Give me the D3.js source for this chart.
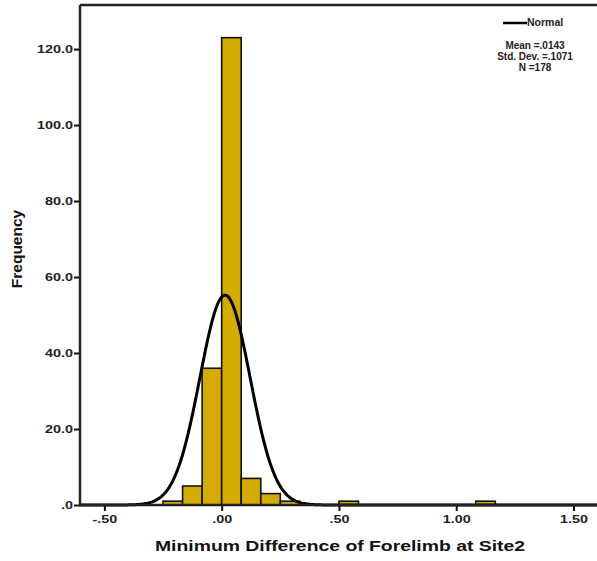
<!DOCTYPE html>
<html>
<head>
<meta charset="utf-8">
<script src="https://cdn.jsdelivr.net/npm/d3@7"></script>
<style>
  body { margin: 0; background: #fff; }
  svg { display: block; font-family: "Liberation Sans", Arial, sans-serif; }
</style>
</head>
<body>
<svg id="chart" width="597" height="561"></svg>
<script>
// histogram bins (lower edge, upper edge) and counts
const binStart = [-0.25, -0.1667, -0.0833, 0.0, 0.0833, 0.1667, 0.25, 0.5, 1.0833];
const binEnd = [-0.1667, -0.0833, 0.0, 0.0833, 0.1667, 0.25, 0.3333, 0.5833, 1.1667];
const counts = [1, 5, 36, 123, 7, 3, 1, 1, 1];

const xTicks = [-0.5, 0, 0.5, 1.0, 1.5];
const yTicks = [0, 20, 40, 60, 80, 100, 120];

// summary stats shown in the legend
const stat_mean = 0.0143;
const stat_sd = 0.1071;
const stat_n = 178;
const bin_width = 0.0833;

const svg = d3.select('#chart');
const m_left = 80, m_top = 5, m_bottom = 505, m_right = 600;
const stretch = 1.25; // the text in the picture is wide, stretch it sideways

const x = d3.scaleLinear().domain([-0.604, 1.613]).range([m_left, m_right]);
const y = d3.scaleLinear().domain([0, 131.6]).range([m_bottom, m_top]);

const fmtX = v => d3.format('.2f')(v).replace('\u2212', '-').replace(/^(-?)0\./, '$1.');
const fmtY = v => d3.format('.1f')(v).replace(/^0\./, '.');

const plot = svg.append('g');

// bars
plot.selectAll('rect.bar')
  .data(counts)
  .enter()
  .append('rect')
  .attr('class', 'bar')
  .attr('x', (d, i) => x(binStart[i]))
  .attr('width', (d, i) => x(binEnd[i]) - x(binStart[i]))
  .attr('y', d => y(d))
  .attr('height', d => y(0) - y(d))
  .attr('fill', '#d4ab02')
  .attr('stroke', '#111')
  .attr('stroke-width', 1.6);

// normal curve from the legend stats
const curvePts = d3.range(-0.604, 1.62, 0.004).map(v => {
  const z = (v - stat_mean) / stat_sd;
  return [v, stat_n * bin_width * Math.exp(-0.5 * z * z) / (stat_sd * Math.sqrt(2 * Math.PI))];
});
plot.append('path')
  .datum(curvePts)
  .attr('fill', 'none')
  .attr('stroke', '#000')
  .attr('stroke-width', 3)
  .attr('d', d3.line().x(d => x(d[0])).y(d => y(d[1])));

// axes
const xAxis = svg.append('g')
  .attr('transform', `translate(0,${m_bottom})`)
  .call(d3.axisBottom(x).tickValues(xTicks).tickFormat(fmtX).tickSize(6).tickPadding(4));
const yAxis = svg.append('g')
  .attr('transform', `translate(${m_left},0)`)
  .call(d3.axisLeft(y).tickValues(yTicks).tickFormat(fmtY).tickSize(6).tickPadding(2));

[xAxis, yAxis].forEach(a => {
  a.select('.domain').remove();
  a.selectAll('.tick line').attr('stroke', '#111').attr('stroke-width', 2);
  a.selectAll('.tick text')
    .attr('fill', '#222')
    .attr('font-size', '11.5px')
    .attr('font-weight', 'bold')
    .attr('font-family', '"Liberation Sans", Arial, sans-serif')
    .attr('transform', `scale(${stretch},1)`);
});
yAxis.selectAll('.tick text').attr('x', -7 / stretch).attr('dy', '0.32em');

// frame
svg.append('path')
  .attr('d', `M${m_left},${m_top}H597M${m_left},${m_top}V${m_bottom}H597`)
  .attr('fill', 'none')
  .attr('stroke', '#222')
  .attr('stroke-width', 2.5);

// titles
svg.append('g')
  .attr('transform', `translate(340,551) scale(${stretch},1)`)
  .append('text')
  .attr('text-anchor', 'middle')
  .attr('font-size', '15.5px')
  .attr('font-weight', 'bold')
  .attr('fill', '#111')
  .text('Minimum Difference of Forelimb at Site2');

svg.append('text')
  .attr('transform', 'translate(22,249) rotate(-90)')
  .attr('text-anchor', 'middle')
  .attr('font-size', '15.5px')
  .attr('font-weight', 'bold')
  .attr('fill', '#111')
  .text('Frequency');

// legend
const legend = svg.append('g').attr('font-size', '10px').attr('font-weight', 'bold').attr('fill', '#222');
legend.append('line')
  .attr('x1', 503).attr('x2', 527).attr('y1', 23).attr('y2', 23)
  .attr('stroke', '#000').attr('stroke-width', 2.5);
legend.append('text').attr('x', 527).attr('y', 26).attr('font-size', '10.5px').text('Normal');
legend.append('text').attr('x', 535).attr('y', 49).attr('text-anchor', 'middle')
  .text(`Mean =${d3.format('.4f')(stat_mean).replace(/^0/, '')}`);
legend.append('text').attr('x', 535).attr('y', 60).attr('text-anchor', 'middle')
  .text(`Std. Dev. =${d3.format('.4f')(stat_sd).replace(/^0/, '')}`);
legend.append('text').attr('x', 535).attr('y', 71).attr('text-anchor', 'middle')
  .text(`N =${stat_n}`);
</script>
</body>
</html>
